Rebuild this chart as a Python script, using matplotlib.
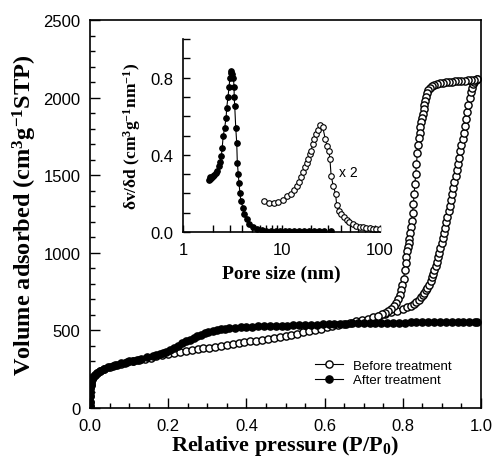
import matplotlib
matplotlib.use('Agg')
import matplotlib.pyplot as plt
from matplotlib.ticker import MultipleLocator, LogLocator, FixedLocator, FuncFormatter, NullFormatter

plt.rcParams['font.family'] = ['Liberation Sans', 'DejaVu Sans']
plt.rcParams['mathtext.fontset'] = 'custom'
plt.rcParams['mathtext.rm'] = 'Liberation Serif:bold'
plt.rcParams['mathtext.it'] = 'Liberation Serif:bold'
plt.rcParams['mathtext.bf'] = 'Liberation Serif:bold'

# isotherm, before treatment - adsorption branch
before_ads_p = [0.0, 0.0, 0.0005, 0.001, 0.001, 0.002, 0.003, 0.005, 0.008, 0.012, 0.018, 0.025,
                0.035, 0.05, 0.065, 0.08, 0.095, 0.11, 0.125, 0.14, 0.155, 0.17, 0.185, 0.2,
                0.215, 0.23, 0.245, 0.26, 0.275, 0.29, 0.305, 0.32, 0.335, 0.35, 0.365, 0.38,
                0.395, 0.41, 0.425, 0.44, 0.455, 0.47, 0.485, 0.5, 0.515, 0.53, 0.545, 0.56,
                0.575, 0.59, 0.605, 0.62, 0.635, 0.65, 0.665, 0.68, 0.695, 0.71, 0.725, 0.74,
                0.755, 0.77, 0.785, 0.8, 0.81, 0.82, 0.828, 0.835, 0.841, 0.846, 0.851, 0.855,
                0.859, 0.863, 0.867, 0.871, 0.875, 0.878, 0.881, 0.884, 0.887, 0.89, 0.893, 0.896,
                0.899, 0.902, 0.905, 0.908, 0.911, 0.914, 0.917, 0.92, 0.923, 0.926, 0.929, 0.932,
                0.935, 0.938, 0.941, 0.944, 0.947, 0.95, 0.953, 0.956, 0.959, 0.962, 0.965, 0.968,
                0.971, 0.974, 0.977, 0.98, 0.983, 0.986, 0.99]
before_ads_v = [10, 40, 75, 105, 130, 150, 168, 185, 200, 213, 226, 237,
                250, 264, 276, 286, 295, 303, 311, 318, 325, 332, 341, 347,
                354, 361, 367, 373, 379, 384, 389, 395, 400, 406, 411, 417,
                423, 429, 434, 440, 446, 452, 458, 464, 471, 479, 487, 495,
                503, 512, 520, 528, 535, 543, 550, 558, 567, 576, 586, 596,
                606, 617, 628, 640, 648, 658, 668, 682, 697, 712, 728, 743,
                758, 775, 795, 817, 842, 866, 890, 915, 942, 970, 1000, 1030,
                1062, 1095, 1128, 1162, 1197, 1232, 1267, 1303, 1340, 1378, 1416, 1455,
                1494, 1533, 1573, 1613, 1653, 1693, 1733, 1773, 1815, 1860, 1905, 1950,
                1995, 2035, 2065, 2088, 2103, 2112, 2118]

# before treatment - desorption branch
before_des_p = [0.99, 0.982, 0.974, 0.966, 0.958, 0.95, 0.942, 0.934, 0.926, 0.918, 0.91, 0.902,
                0.894, 0.887, 0.88, 0.874, 0.869, 0.865, 0.862, 0.859, 0.857, 0.855, 0.853, 0.851,
                0.849, 0.847, 0.845, 0.843, 0.841, 0.839, 0.837, 0.835, 0.833, 0.831, 0.829, 0.827,
                0.825, 0.823, 0.821, 0.819, 0.817, 0.815, 0.813, 0.811, 0.809, 0.807, 0.805, 0.802,
                0.799, 0.796, 0.792, 0.788, 0.783, 0.777, 0.77, 0.763, 0.755, 0.746, 0.737]
before_des_v = [2118, 2116, 2114, 2112, 2110, 2108, 2106, 2104, 2102, 2100, 2098, 2096,
                2093, 2089, 2082, 2072, 2060, 2046, 2030, 2005, 1980, 1953, 1925, 1897,
                1868, 1840, 1810, 1775, 1738, 1695, 1640, 1570, 1510, 1445, 1380, 1315,
                1255, 1205, 1165, 1125, 1090, 1060, 1035, 1010, 975, 935, 890, 830,
                795, 762, 728, 700, 675, 655, 638, 625, 613, 603, 595]

# after treatment
after_p = [0.0, 0.0, 0.0005, 0.001, 0.001, 0.002, 0.003, 0.005, 0.008, 0.012, 0.018, 0.026,
           0.035, 0.045, 0.059, 0.07, 0.08, 0.09, 0.1, 0.11, 0.12, 0.13, 0.146, 0.16,
           0.17, 0.18, 0.187, 0.195, 0.205, 0.215, 0.225, 0.235, 0.245, 0.255, 0.265, 0.273,
           0.283, 0.293, 0.303, 0.315, 0.325, 0.335, 0.345, 0.355, 0.37, 0.385, 0.4, 0.415,
           0.43, 0.445, 0.46, 0.475, 0.49, 0.505, 0.52, 0.535, 0.55, 0.565, 0.58, 0.595,
           0.61, 0.625, 0.64, 0.655, 0.67, 0.685, 0.7, 0.715, 0.73, 0.745, 0.76, 0.775,
           0.79, 0.805, 0.82, 0.835, 0.85, 0.865, 0.88, 0.895, 0.91, 0.925, 0.94, 0.955,
           0.97, 0.985, 0.99]
after_v = [10, 40, 75, 105, 130, 150, 168, 185, 200, 215, 228, 240,
           252, 262, 272, 280, 287, 293, 300, 306, 312, 318, 328, 337,
           344, 351, 357, 364, 375, 388, 402, 417, 430, 441, 452, 462,
           472, 481, 489, 496, 502, 506, 510, 513, 517, 520, 522, 524,
           526, 527, 528, 529, 530, 531, 532, 534, 535, 537, 538, 540,
           541, 542, 543, 544, 545, 545, 546, 547, 547, 548, 549, 549,
           550, 550, 551, 551, 552, 552, 552, 553, 553, 553, 554, 554,
           554, 555, 555]

# pore size distributions (inset)
after_d = [1.84, 1.88, 1.90, 1.93, 1.97, 2.02, 2.08, 2.14, 2.22, 2.31, 2.38, 2.45,
           2.50, 2.56, 2.65, 2.74, 2.78, 2.86, 2.93, 3.00, 3.06, 3.10, 3.16, 3.25,
           3.30, 3.31, 3.35, 3.43, 3.51, 3.56, 3.64, 3.70, 3.78, 3.87, 4.07, 4.18,
           4.43, 4.72, 5.12, 5.7, 6.3, 7.0, 7.8, 8.7, 9.7, 10.8, 12.0, 13.5,
           15.0, 17.0, 19.0, 21.5, 24.0, 27.0, 32.0]
after_psd = [0.268, 0.275, 0.283, 0.278, 0.285, 0.29, 0.297, 0.305, 0.318, 0.342, 0.365, 0.394,
             0.437, 0.498, 0.541, 0.593, 0.645, 0.697, 0.749, 0.80, 0.822, 0.835, 0.82, 0.80,
             0.749, 0.697, 0.654, 0.541, 0.463, 0.36, 0.30, 0.256, 0.204, 0.16, 0.126, 0.091,
             0.065, 0.043, 0.026, 0.016, 0.01, 0.007, 0.006, 0.005, 0.005, 0.004, 0.004, 0.004,
             0.003, 0.003, 0.003, 0.003, 0.003, 0.003, 0.003]

before_d = [6.57, 7.46, 8.33, 9.31, 10.4, 11.5, 12.5, 13.4, 14.3, 15.2, 15.7, 16.7,
            17.4, 18.1, 18.4, 19.3, 19.9, 20.9, 21.6, 22.5, 23.5, 24.5, 26.2, 27.8,
            29.0, 30.3, 31.0, 31.9, 33.5, 35.4, 36.3, 38.4, 40.5, 43.2, 46.0, 48.8,
            53.0, 57.0, 62.0, 67.0, 72.5, 78.5, 85.0, 91.6, 99.0]
before_psd = [0.159, 0.151, 0.149, 0.154, 0.166, 0.189, 0.197, 0.218, 0.24, 0.258, 0.284, 0.31,
              0.336, 0.357, 0.379, 0.405, 0.422, 0.457, 0.483, 0.509, 0.53, 0.552, 0.544, 0.483,
              0.448, 0.422, 0.379, 0.292, 0.24, 0.197, 0.142, 0.108, 0.092, 0.076, 0.06, 0.05,
              0.04, 0.033, 0.028, 0.024, 0.021, 0.019, 0.017, 0.016, 0.017]

W, H = 493, 464
fig = plt.figure(figsize=(W / 100, H / 100), dpi=100)

def frac(x0, y0, x1, y1):
    return [x0 / W, 1 - y1 / H, (x1 - x0) / W, (y1 - y0) / H]

ax = fig.add_axes(frac(90, 21, 481, 409))
ax.plot(before_ads_p, before_ads_v, '-o', color='black', lw=0.8, ms=5.2, mfc='white', mec='black', mew=1.0,
        label='Before treatment')
ax.plot(before_des_p, before_des_v, '-o', color='black', lw=0.8, ms=5.2, mfc='white', mec='black', mew=1.0)
ax.plot(after_p, after_v, '-o', color='black', lw=0.8, ms=5.2, mfc='black', mec='black', mew=1.0,
        label='After treatment')
ax.set_xlim(0, 1.0)
ax.set_ylim(0, 2500)
ax.xaxis.set_major_locator(MultipleLocator(0.2))
ax.xaxis.set_minor_locator(MultipleLocator(0.05))
ax.yaxis.set_major_locator(MultipleLocator(500))
ax.yaxis.set_minor_locator(MultipleLocator(100))
ax.xaxis.set_major_formatter(FuncFormatter(lambda v, p: f'{v:.1f}'))
ax.tick_params(which='both', direction='in', top=False, right=False, labelsize=12, pad=7, width=1)
ax.tick_params(which='major', length=7)
ax.tick_params(which='minor', length=3.5)
for s in ax.spines.values():
    s.set_linewidth(1.2)
ax.set_xlabel('Relative pressure (P/P$_0$)', family='Liberation Serif', weight='bold', fontsize=16, labelpad=0)
ax.set_ylabel('Volume adsorbed (cm$^3$g$^{-1}$STP)', family='Liberation Serif', weight='bold', fontsize=17.5,
              labelpad=3)
ax.legend(loc='center left', bbox_to_anchor=(0.575, 0.09), frameon=False, fontsize=9.5,
          handlelength=2.1, handletextpad=0.8, labelspacing=0.15, borderpad=0, borderaxespad=0)

# inset
ins = fig.add_axes(frac(183, 40, 380, 233))
ins.patch.set_alpha(0)
ins.plot(after_d, after_psd, '-o', color='black', lw=0.8, ms=4, mfc='black', mec='black', mew=0.8)
ins.plot(before_d, before_psd, '-o', color='black', lw=0.8, ms=4, mfc='white', mec='black', mew=0.8)
ins.set_xscale('log')
ins.set_xlim(1, 100)
ins.set_ylim(0, 1.0)
ins.xaxis.set_major_locator(FixedLocator([1, 10, 100]))
ins.xaxis.set_minor_locator(LogLocator(base=10, subs=range(2, 10)))
ins.xaxis.set_major_formatter(FuncFormatter(lambda v, p: f'{v:g}'))
ins.xaxis.set_minor_formatter(NullFormatter())
ins.yaxis.set_major_locator(MultipleLocator(0.4))
ins.yaxis.set_minor_locator(MultipleLocator(0.1))
ins.yaxis.set_major_formatter(FuncFormatter(lambda v, p: f'{v:.1f}'))
ins.spines['top'].set_visible(False)
ins.spines['right'].set_visible(False)
for s in ['left', 'bottom']:
    ins.spines[s].set_linewidth(1.2)
ins.tick_params(which='both', direction='in', labelsize=12, pad=7, width=1)
ins.tick_params(which='major', length=5)
ins.tick_params(which='minor', length=5)
ins.set_xlabel('Pore size (nm)', family='Liberation Serif', weight='bold', fontsize=14, labelpad=6)
ins.set_ylabel('δv/δd (cm$^3$g$^{-1}$nm$^{-1}$)', family='Liberation Serif', weight='bold', fontsize=12.5,
               labelpad=5)
ins.text(38, 0.29, 'x 2', fontsize=10)

fig.savefig('out.png', dpi=100)
